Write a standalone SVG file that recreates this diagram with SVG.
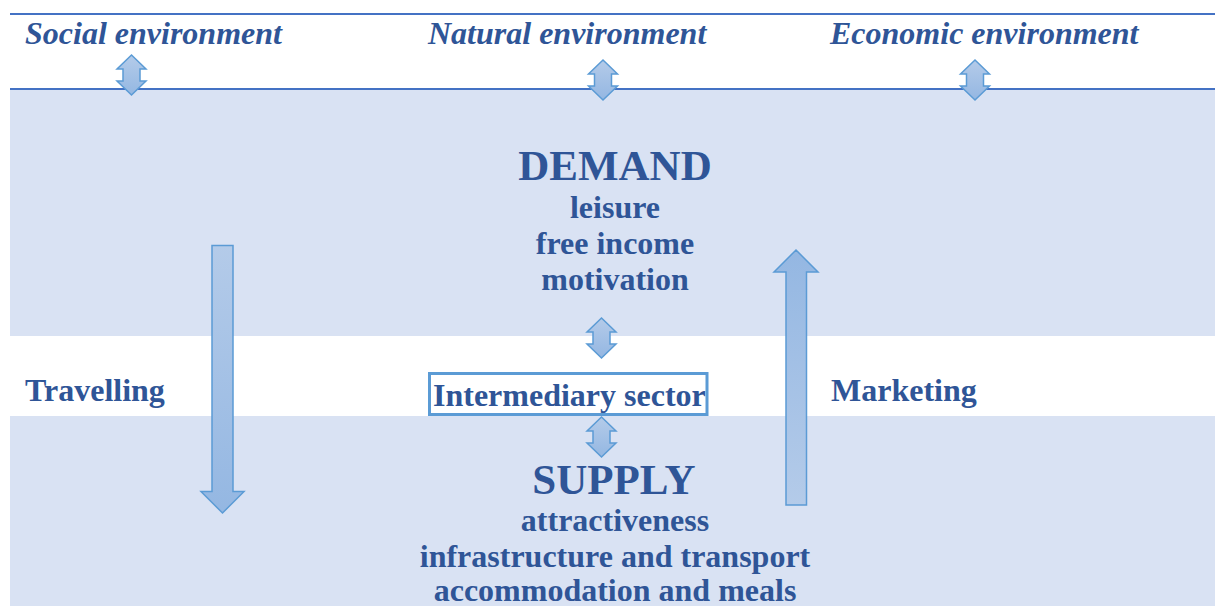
<svg xmlns="http://www.w3.org/2000/svg" width="1215" height="606" viewBox="0 0 1215 606">
  <style>
    .head { font-family: "Liberation Serif", "Times New Roman", serif; font-weight: bold; font-style: italic; font-size: 32px; fill: #2f5597; }
    .lbl { font-family: "Liberation Serif", "Times New Roman", serif; font-weight: bold; font-size: 32px; fill: #2f5597; }
    .big { font-family: "Liberation Serif", "Times New Roman", serif; font-weight: bold; font-size: 43px; fill: #2f5597; }
    .mid { text-anchor: middle; }
    .band { fill: #d9e2f3; }
    .rule { stroke: #4472c4; stroke-width: 2; }
    .arr { stroke: #5b9bd5; stroke-width: 1.5; stroke-linejoin: miter; }
  </style>
  <defs>
    <linearGradient id="gDown" x1="0" y1="0" x2="0" y2="1">
      <stop offset="0" stop-color="#b4cbe9"/>
      <stop offset="1" stop-color="#94b7e2"/>
    </linearGradient>
    <linearGradient id="gUp" x1="0" y1="1" x2="0" y2="0">
      <stop offset="0" stop-color="#b4cbe9"/>
      <stop offset="1" stop-color="#94b7e2"/>
    </linearGradient>
    <!-- two-headed vertical arrow, 40 tall, centred on x=0 -->
    <path id="dbl" class="arr" fill="url(#gDown)" d="M0,0 L14.5,14 L8.5,14 L8.5,26 L14.5,26 L0,40 L-14.5,26 L-8.5,26 L-8.5,14 L-14.5,14 Z"/>
  </defs>

  <!-- background bands -->
  <g id="bands">
    <rect class="band" x="10" y="89" width="1205" height="247"/>
    <rect class="band" x="10" y="416" width="1205" height="190"/>
    <line class="rule" x1="10" y1="14" x2="1215" y2="14"/>
    <line class="rule" x1="10" y1="89" x2="1215" y2="89"/>
  </g>

  <!-- environment headings -->
  <g id="social"><text class="head" x="25" y="44">Social environment</text></g>
  <g id="natural"><text class="head" x="428" y="44">Natural environment</text></g>
  <g id="economic"><text class="head" x="830" y="44">Economic environment</text></g>

  <!-- demand block -->
  <g id="demand">
    <text class="big mid" x="615" y="180">DEMAND</text>
    <text class="lbl mid" x="615" y="218">leisure</text>
    <text class="lbl mid" x="615" y="254">free income</text>
    <text class="lbl mid" x="615" y="290">motivation</text>
  </g>

  <!-- intermediary sector -->
  <g id="intermediary">
    <rect x="429.5" y="373.5" width="277.5" height="41" fill="#ffffff" stroke="#5b9bd5" stroke-width="3"/>
    <text class="lbl" x="433" y="406">Intermediary sector</text>
  </g>

  <!-- supply block -->
  <g id="supply">
    <text class="big mid" x="614" y="494">SUPPLY</text>
    <text class="lbl mid" x="615" y="531">attractiveness</text>
    <text class="lbl mid" x="615" y="567">infrastructure and transport</text>
    <text class="lbl mid" x="615" y="601">accommodation and meals</text>
  </g>

  <g id="travelling"><text class="lbl" x="25" y="401">Travelling</text></g>
  <g id="marketing"><text class="lbl" x="831" y="401">Marketing</text></g>

  <!-- connectors -->
  <g id="connectors">
    <use href="#dbl" x="131.5" y="55"/>
    <use href="#dbl" x="603" y="60"/>
    <use href="#dbl" x="975" y="60"/>
    <use href="#dbl" x="601.5" y="318"/>
    <use href="#dbl" x="601.5" y="417"/>
    <!-- travelling: demand down to supply -->
    <path class="arr" fill="url(#gDown)" d="M212,245.5 L233,245.5 L233,491.5 L244,491.5 L222.5,513 L201,491.5 L212,491.5 Z"/>
    <!-- marketing: supply up to demand -->
    <path class="arr" fill="url(#gUp)" d="M796,250 L818,272 L806.5,272 L806.5,505 L786,505 L786,272 L774,272 Z"/>
  </g>
</svg>
